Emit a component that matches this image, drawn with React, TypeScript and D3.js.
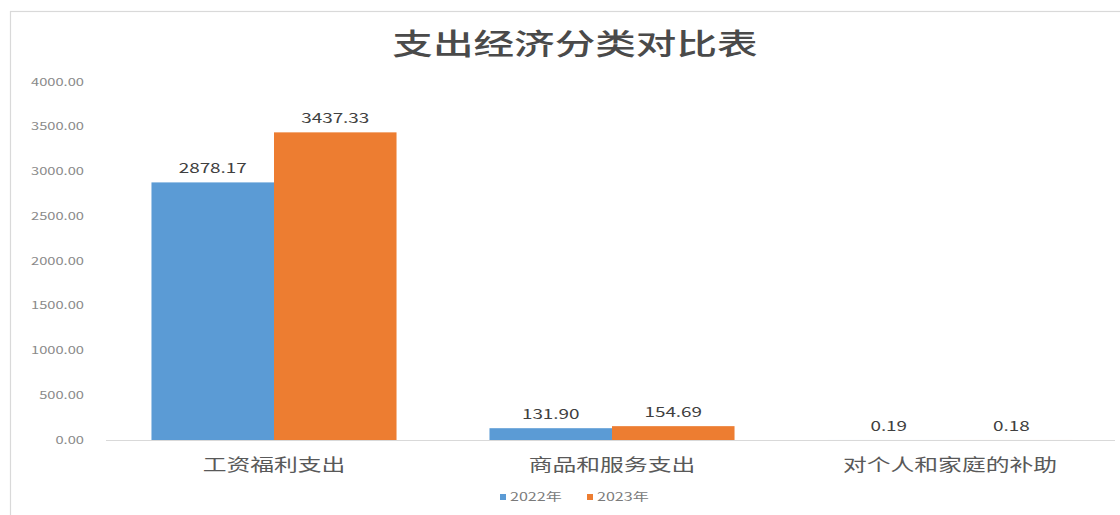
import React from "react";
import * as d3 from "d3";

const title = "支出经济分类对比表";
const categories = ["工资福利支出", "商品和服务支出", "对个人和家庭的补助"];
const seriesNames = ["2022年", "2023年"];
const values2022 = [2878.17, 131.9, 0.19];
const values2023 = [3437.33, 154.69, 0.18];
const yTicks = [0, 500, 1000, 1500, 2000, 2500, 3000, 3500, 4000];
const colors = ["#5B9BD5", "#ED7D31"];

const W = 1120;
const H = 515;
const SX = 1.4;
const FONT = "'Noto Sans CJK SC', 'Noto Sans', sans-serif";

function T(props: {
  x: number;
  y: number;
  size: number;
  anchor?: "start" | "middle" | "end";
  fill?: string;
  weight?: number | string;
  children: React.ReactNode;
}) {
  const { x, y, size, anchor = "middle", fill = "#595959", weight = "normal", children } = props;
  return (
    <text
      transform={`translate(${x},${y}) scale(${SX},1)`}
      textAnchor={anchor}
      fontSize={size}
      fill={fill}
      fontWeight={weight}
      fontFamily={FONT}
    >
      {children}
    </text>
  );
}

export default function App() {
  const y = d3.scaleLinear().domain([0, 4000]).range([440, 82]);
  const x0 = d3
    .scaleBand<string>()
    .domain(categories)
    .range([105, 1119])
    .paddingInner(0.275)
    .paddingOuter(0.1375);
  const x1 = d3
    .scaleBand<string>()
    .domain(seriesNames)
    .range([0, x0.bandwidth()])
    .padding(0);
  const series = [values2022, values2023];

  return (
    <svg
      width={W}
      height={H}
      style={{ position: "absolute", left: 0, top: 0, background: "#fff" }}
    >
      <rect x={0} y={0} width={W} height={H} fill="#fff" />
      <rect x={10.5} y={11.5} width={W + 20} height={H + 20} fill="none" stroke="#d9d9d9" strokeWidth={1.2} />

      <T x={575} y={55} size={29} fill="#4a4a4a" weight={500}>
        {title}
      </T>

      {yTicks.map((t) => (
        <T key={t} x={84} y={y(t) + 3.5} size={10.5} anchor="end" fill="#8a8a8a">
          {d3.format(".2f")(t)}
        </T>
      ))}

      <line x1={106} x2={1115} y1={y(0) + 0.5} y2={y(0) + 0.5} stroke="#d9d9d9" strokeWidth={1} />

      {categories.map((c, i) => (
        <g key={c} transform={`translate(${x0(c)},0)`}>
          {seriesNames.map((s, j) => {
            const v = series[j][i];
            const bx = x1(s) as number;
            const bw = x1.bandwidth();
            return (
              <g key={s}>
                <rect x={bx} y={y(v)} width={bw} height={y(0) - y(v)} fill={colors[j]} />
                <T x={bx + bw / 2} y={y(v) - 9} size={13.5} fill="#404040">
                  {d3.format(".2f")(v)}
                </T>
              </g>
            );
          })}
        </g>
      ))}

      {categories.map((c) => (
        <T key={c} x={(x0(c) as number) + x0.bandwidth() / 2} y={471} size={17} fill="#595959">
          {c}
        </T>
      ))}

      {seriesNames.map((s, j) => {
        const lx = 500 + j * 87;
        return (
          <g key={s}>
            <rect x={lx} y={494} width={6} height={6} fill={colors[j]} />
            <T x={lx + 10} y={501} size={11.5} anchor="start" fill="#7a7a7a">
              {s}
            </T>
          </g>
        );
      })}
    </svg>
  );
}
